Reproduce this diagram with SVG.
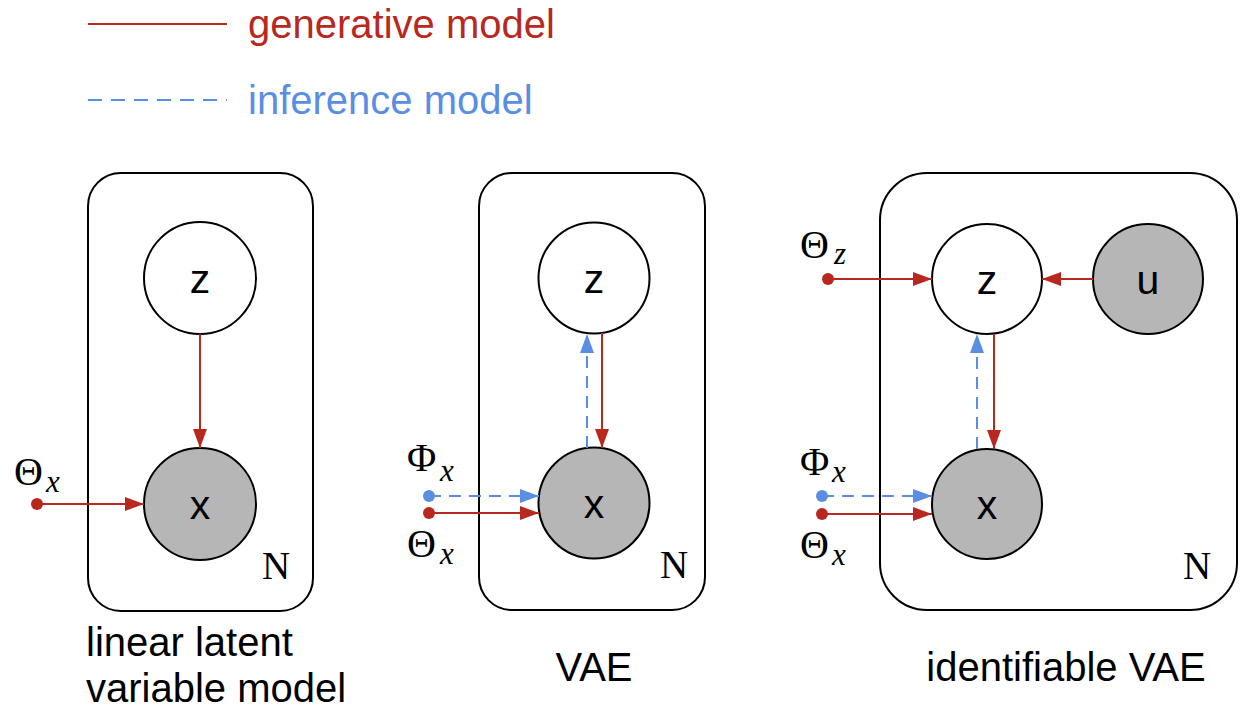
<svg xmlns="http://www.w3.org/2000/svg" width="1260" height="710" viewBox="0 0 1260 710">
<style>
.plate{fill:none;stroke:#000;stroke-width:2}
.node{stroke:#000;stroke-width:2}
.latent{fill:#fff}
.obs{fill:#b6b6b6}
.nlabel{font-family:"Liberation Sans",Arial,sans-serif;font-size:41px;fill:#000;text-anchor:middle}
.cap{font-family:"Liberation Sans",Arial,sans-serif;font-size:40px;fill:#000}
.math{font-family:"Liberation Serif","DejaVu Serif",serif;font-size:40px;fill:#000}
.sub{font-family:"Liberation Serif","DejaVu Serif",serif;font-style:italic;font-size:31px;fill:#000}
.nn{font-family:"Liberation Serif","DejaVu Serif",serif;font-size:39px;fill:#000}
.gen{stroke:#b8281e;stroke-width:2;fill:none}
.inf{stroke:#5a8ee4;stroke-width:2;fill:none;stroke-dasharray:12 8}
.gdot{fill:#b8281e}
.idot{fill:#5a8ee4}
</style>
<defs>
<marker id="ag" markerUnits="userSpaceOnUse" markerWidth="20" markerHeight="14" refX="19" refY="7" orient="auto"><path d="M0,0 L19,7 L0,14 Z" fill="#b8281e"/></marker>
<marker id="ai" markerUnits="userSpaceOnUse" markerWidth="20" markerHeight="14" refX="19" refY="7" orient="auto"><path d="M0,0 L19,7 L0,14 Z" fill="#5a8ee4"/></marker>
</defs>

<g id="legend">
<line x1="88" y1="24" x2="227" y2="24" class="gen"/>
<text x="248" y="38" font-family="Liberation Sans,Arial,sans-serif" font-size="40" fill="#b8281e">generative model</text>
<line x1="88" y1="100" x2="227" y2="100" stroke="#5a8ee4" stroke-width="2" stroke-dasharray="14 9"/>
<text x="248" y="114" font-family="Liberation Sans,Arial,sans-serif" font-size="40" fill="#5a8ee4">inference model</text>
</g>

<!-- Panel 1 -->
<g id="plate1"><rect x="88" y="173" width="225" height="438" rx="33" ry="33" class="plate"/><text x="262" y="579" class="nn">N</text></g>
<g id="p1-z"><circle cx="200" cy="278" r="56" class="node latent"/><text x="200" y="293" class="nlabel">z</text></g>
<g id="p1-x"><circle cx="200" cy="504" r="56" class="node obs"/><text x="200" y="519" class="nlabel">x</text></g>
<g id="p1-theta"><circle cx="37" cy="504" r="6" class="gdot"/><text x="14" y="485" class="math">Θ</text><text x="46" y="492" class="sub">x</text></g>
<g id="caption1"><text x="86" y="656" class="cap">linear latent</text><text x="86" y="702" class="cap">variable model</text></g>

<!-- Panel 2 -->
<g id="plate2"><rect x="479" y="173" width="226" height="437" rx="33" ry="33" class="plate"/><text x="660" y="578" class="nn">N</text></g>
<g id="p2-z"><circle cx="594" cy="278" r="55.5" class="node latent"/><text x="594" y="293" class="nlabel">z</text></g>
<g id="p2-x"><circle cx="594" cy="503" r="55.5" class="node obs"/><text x="594" y="518" class="nlabel">x</text></g>
<g id="p2-phi"><circle cx="429" cy="496" r="6" class="idot"/><text x="407" y="471" class="math">Φ</text><text x="440" y="481" class="sub">x</text></g>
<g id="p2-theta"><circle cx="429" cy="513" r="6" class="gdot"/><text x="407" y="557" class="math">Θ</text><text x="440" y="564" class="sub">x</text></g>
<g id="caption2"><text x="594" y="681" class="cap" text-anchor="middle">VAE</text></g>

<!-- Panel 3 -->
<g id="plate3"><rect x="880" y="173" width="357" height="437" rx="47" ry="47" class="plate"/><text x="1183" y="579" class="nn">N</text></g>
<g id="p3-z"><circle cx="987" cy="279" r="55" class="node latent"/><text x="987" y="294" class="nlabel">z</text></g>
<g id="p3-u"><circle cx="1148" cy="279" r="55" class="node obs"/><text x="1148" y="294" class="nlabel">u</text></g>
<g id="p3-x"><circle cx="987" cy="504" r="55" class="node obs"/><text x="987" y="519" class="nlabel">x</text></g>
<g id="p3-thetaz"><circle cx="828" cy="279" r="6" class="gdot"/><text x="800" y="258" class="math">Θ</text><text x="834" y="264" class="sub">z</text></g>
<g id="p3-phi"><circle cx="822" cy="496" r="6" class="idot"/><text x="800" y="475" class="math">Φ</text><text x="832" y="482" class="sub">x</text></g>
<g id="p3-theta"><circle cx="822" cy="514" r="6" class="gdot"/><text x="800" y="558" class="math">Θ</text><text x="832" y="565" class="sub">x</text></g>
<g id="caption3"><text x="1066" y="681" class="cap" text-anchor="middle">identifiable VAE</text></g>

<g id="connectors">
<line x1="200" y1="334" x2="200" y2="448" class="gen" marker-end="url(#ag)"/>
<line x1="37" y1="504" x2="144" y2="504" class="gen" marker-end="url(#ag)"/>

<line x1="602" y1="333" x2="602" y2="448" class="gen" marker-end="url(#ag)"/>
<line x1="587" y1="448" x2="587" y2="334" class="inf" marker-end="url(#ai)"/>
<line x1="429" y1="496" x2="539" y2="496" class="inf" marker-end="url(#ai)"/>
<line x1="429" y1="513" x2="539" y2="513" class="gen" marker-end="url(#ag)"/>

<line x1="828" y1="279" x2="932" y2="279" class="gen" marker-end="url(#ag)"/>
<line x1="1093" y1="279" x2="1042" y2="279" class="gen" marker-end="url(#ag)"/>
<line x1="994" y1="334" x2="994" y2="449" class="gen" marker-end="url(#ag)"/>
<line x1="977" y1="449" x2="977" y2="334" class="inf" marker-end="url(#ai)"/>
<line x1="822" y1="496" x2="932" y2="496" class="inf" marker-end="url(#ai)"/>
<line x1="822" y1="514" x2="932" y2="514" class="gen" marker-end="url(#ag)"/>
</g>
</svg>
